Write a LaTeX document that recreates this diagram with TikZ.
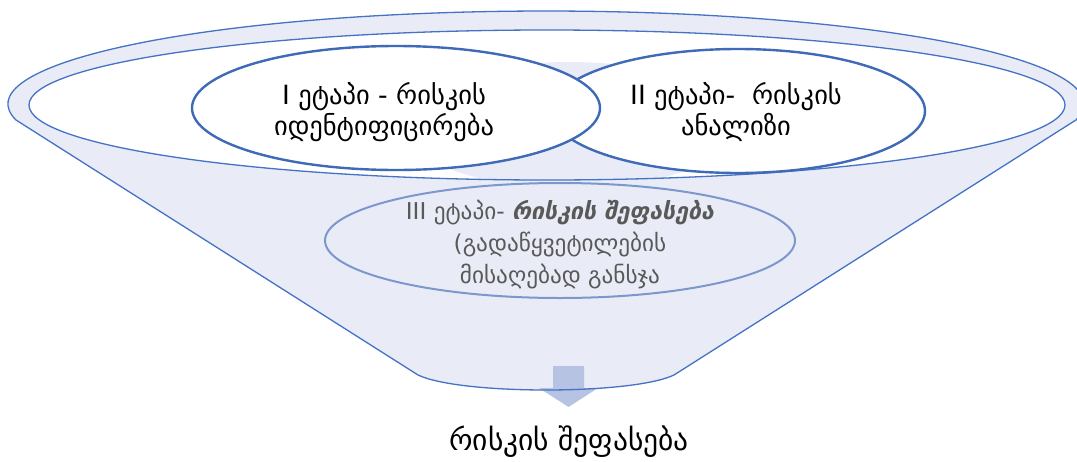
\documentclass[tikz,border=0pt]{standalone}
\usepackage{fontspec}
\setmainfont{DejaVu Sans}
\usetikzlibrary{shapes.geometric}
\definecolor{funnelfill}{HTML}{E9ECF6}
\definecolor{funnelline}{HTML}{4472C4}
\definecolor{stageline}{HTML}{3F6AB8}
\definecolor{softline}{HTML}{7B97CE}
\definecolor{arrowfill}{HTML}{B6C3E3}
\definecolor{softtext}{HTML}{595959}
\tikzset{
  thinline/.style={draw=funnelline, line width=1.3pt},
  stageoval/.style={ellipse, draw=stageline, line width=2.4pt, fill=white, inner sep=0pt},
  stagetext/.style={align=center, inner sep=0pt, font=\fontsize{26.5}{31}\selectfont},
  lowtext/.style={align=center, inner sep=0pt, font=\fontsize{23.2}{32}\selectfont, text=softtext},
}
\begin{document}
\begin{tikzpicture}[x=1pt, y=-1pt]
\useasboundingbox (0,0) rectangle (1077,461);

% funnel body: upper rim arc, sloping sides and the curved bottom
\fill[funnelfill] (16,120) arc[start angle=170.1, end angle=369.9, x radius=538, y radius=93]
  -- (674,375) .. controls (632,395) and (460,395) .. (418,375) -- cycle;

% opening of the funnel
\node[ellipse, fill=white, inner sep=0pt, minimum width=1036pt, minimum height=150pt] (mouth) at (547,105) {};
\begin{scope}
  \clip (547,105) ellipse[x radius=518, y radius=75];
  \fill[funnelfill] (570,125) ellipse[x radius=168, y radius=63];
\end{scope}
\node[ellipse, thinline, inner sep=0pt, minimum width=1036pt, minimum height=150pt] at (mouth.center) {};

% the three stages
\node[stageoval, minimum width=374pt, minimum height=124pt] (e2) at (738,111) {};
\node[stageoval, minimum width=408pt, minimum height=124pt] (e1) at (396,108) {};
\node[ellipse, draw=softline, line width=2pt, inner sep=0pt, minimum width=470pt, minimum height=115pt] (e3) at (560,240.5) {};

% outflow arrow
\fill[arrowfill] (553,366) -- (584,366) -- (584,388) -- (598,388) -- (568.5,407)
  -- (539,388) -- (553,388) -- cycle;

% funnel outline on top
\draw[thinline, line join=round] (16,120) arc[start angle=170.1, end angle=369.9, x radius=538, y radius=93]
  -- (674,375) .. controls (632,395) and (460,395) .. (418,375) -- cycle;

% labels
\node[stagetext] (t1) at (384,112) {I ეტაპი - რისკის\\იდენტიფიცირება};
\node[stagetext] (t2) at (736,112) {II ეტაპი-~ რისკის\\ანალიზი};
\node[lowtext] (t3) at (560,245) {III ეტაპი- \textbf{\textit{რისკის შეფასება}}\\(გადაწყვეტილების\\მისაღებად განსჯა};
\node[inner sep=0pt, font=\fontsize{29.5}{34}\selectfont] (t4) at (569,442) {რისკის შეფასება};
\end{tikzpicture}
\end{document}
